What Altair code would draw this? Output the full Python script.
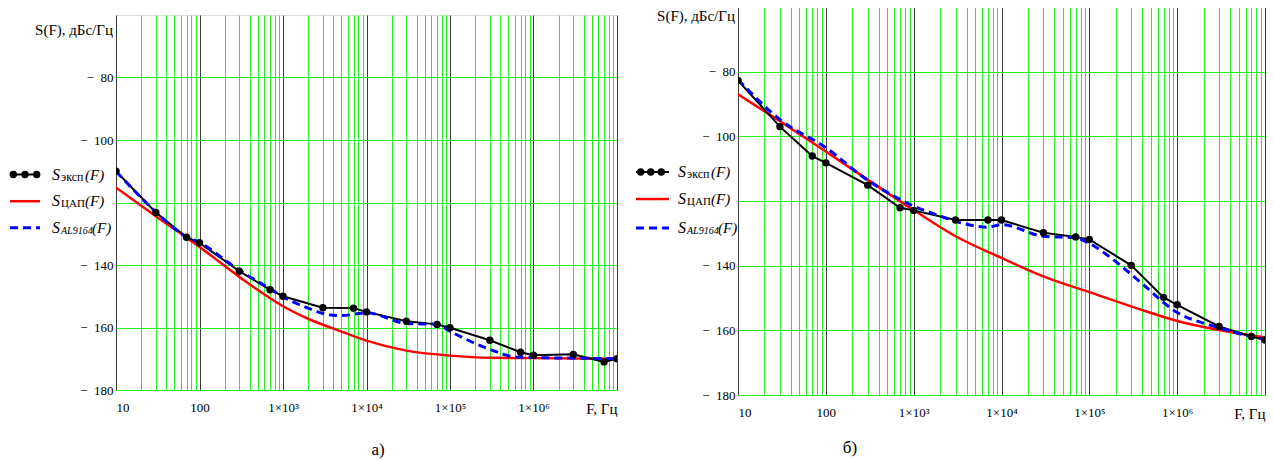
import altair as alt
import pandas as pd

# ---------------- data ----------------
F_exp = [10, 30, 70, 100, 300, 700, 1000, 3000, 7000, 10000, 30000, 70000,
         100000, 300000, 700000, 1000000, 3000000, 7000000, 10000000]

# panel a)
a_exp = [-110.0, -123.2, -131.1, -132.9, -142.0, -147.9, -150.0, -153.7, -153.8, -155.0,
         -158.0, -159.0, -160.1, -164.1, -167.9, -168.9, -168.6, -171.0, -170.0]
a_dac_F = [10, 30, 100, 300, 1000, 2000, 5000, 10000, 30000, 100000, 300000, 1000000, 10000000]
a_dac = [-115.2, -124.4, -134.2, -143.8, -153.2, -157.2, -161.3, -164.2, -167.4, -169.0,
         -169.7, -169.8, -170.0]
a_al_F = [10, 30, 70, 100, 300, 700, 1000, 2000, 3000, 5000, 10000, 30000, 70000, 100000,
          300000, 600000, 1000000, 3000000, 10000000]
a_al = [-110.0, -123.0, -131.0, -132.8, -141.7, -147.6, -150.2, -153.8, -155.5, -156.2,
        -155.3, -158.7, -159.0, -161.2, -167.0, -169.4, -169.6, -169.8, -170.0]

# panel б)
b_exp = [-82.7, -97.0, -106.1, -108.2, -115.1, -122.1, -122.9, -125.9, -125.9, -125.9,
         -129.8, -131.1, -131.9, -139.9, -149.8, -152.1, -158.8, -161.9, -163.0]
b_dac_F = [10, 30, 100, 300, 1000, 3000, 10000, 30000, 100000, 300000, 1000000, 3000000, 10000000]
b_dac = [-87.0, -95.3, -104.7, -113.4, -122.8, -130.9, -137.6, -143.3, -148.2, -152.6,
         -157.1, -159.9, -162.2]
b_al_F = [10, 30, 100, 300, 700, 1000, 1800, 3500, 7000, 10000, 30000, 70000, 100000,
          175000, 300000, 450000, 700000, 1000000, 1800000, 3000000, 7000000, 10000000]
b_al = [-82.4, -94.8, -103.5, -113.6, -119.5, -121.6, -124.2, -126.8, -128.1, -127.3,
        -130.9, -131.4, -133.1, -137.5, -142.7, -146.8, -151.4, -154.5, -157.4, -159.2,
        -162.0, -162.8]

decades = [10, 100, 1000, 10000, 100000, 1000000, 10000000]
minors = [m * 10 ** e for e in range(1, 7) for m in range(2, 10)]
x_grid = sorted(decades + minors)
y_ticks = [-180, -160, -140, -120, -100, -80]
leg_subs = ["эксп", "ЦАП", "AL9164"]
y_title = "S(F), дБс/Гц"

GREEN = "#22ee22"
SERIF = "Liberation Serif"

x_label_expr = (
    "datum.value == 10 ? '10' : datum.value == 100 ? '100' : "
    "datum.value == 1000 ? '1×10³' : datum.value == 10000 ? '1×10⁴' : "
    "datum.value == 100000 ? '1×10⁵' : datum.value == 1000000 ? '1×10⁶' : "
    "datum.value == 10000000 ? 'F, Гц' : ''"
)
# the -120 label is hidden behind the legend in the original
y_label_expr = "datum.value == -120 ? '' : '−\u2002' + abs(datum.value)"
dec_test = " || ".join(f"datum.value == {d}" for d in decades)

one = pd.DataFrame({"k": [0]})

# legend label typography: (subscript size, subscript style, offset of "(F)")
sub_style = [(12, "normal", 33), (11, "normal", 33), (10, "italic", 40)]


def txt(text, x, y, size, style="normal", align="left", baseline="alphabetic"):
    return alt.Chart(one).mark_text(text=text, font=SERIF, fontSize=size, fontStyle=style,
                                    align=align, baseline=baseline, color="black").encode(
        x=alt.value(x), y=alt.value(y))


def make_panel(exp_S, dac_F, dac_S, al_F, al_S, W, H, leg, title_y, caption, cap_x, cap_y):
    xs = alt.Scale(type="log", domain=[10, 10000000], nice=False)
    ys = alt.Scale(domain=[-180, -60], nice=False, zero=False)
    x_axis = alt.Axis(values=x_grid, grid=True,
                      gridColor={"condition": {"test": dec_test, "value": "#3a3a3a"}, "value": GREEN},
                      gridWidth=1, ticks=False, tickSize=0, domain=False,
                      labelExpr=x_label_expr, labelFlush=True, labelOverlap=False, labelBound=False,
                      labelFont=SERIF,
                      labelFontSize={"condition": {"test": "datum.value == 10000000", "value": 15},
                                     "value": 13},
                      labelColor="black", labelPadding=11, title=None)
    y_axis = alt.Axis(values=y_ticks, grid=True, gridColor=GREEN, gridWidth=1,
                      ticks=False, tickSize=0, domain=False,
                      labelExpr=y_label_expr, labelFont=SERIF, labelFontSize=13,
                      labelColor="black", labelPadding=3, title=None)
    X = alt.X("F:Q", scale=xs, axis=x_axis)
    Y = alt.Y("S:Q", scale=ys, axis=y_axis)

    df_exp = pd.DataFrame({"F": F_exp, "S": exp_S})
    df_dac = pd.DataFrame({"F": dac_F, "S": dac_S})
    df_al = pd.DataFrame({"F": al_F, "S": al_S})

    red = alt.Chart(df_dac).mark_line(color="#ff0000", strokeWidth=2.5, interpolate="monotone",
                                      clip=True).encode(x=X, y=Y)
    black = alt.Chart(df_exp).mark_line(color="black", strokeWidth=2, clip=True).encode(x=X, y=Y)
    blue = alt.Chart(df_al).mark_line(color="#0000ff", strokeWidth=3, strokeDash=[8, 5],
                                      interpolate="monotone", clip=True).encode(x=X, y=Y)
    pts = alt.Chart(df_exp).mark_circle(color="black", size=55, opacity=1, clip=True).encode(x=X, y=Y)

    deco = []
    x0, x1, dots, tx, rows = leg
    deco.append(alt.Chart(one).mark_rule(color="black", strokeWidth=2).encode(
        x=alt.value(x0), x2=alt.value(x1), y=alt.value(rows[0])))
    for d in dots:
        deco.append(alt.Chart(one).mark_circle(color="black", size=55, opacity=1).encode(
            x=alt.value(d), y=alt.value(rows[0])))
    deco.append(alt.Chart(one).mark_rule(color="#ff0000", strokeWidth=2.5).encode(
        x=alt.value(x0), x2=alt.value(x1), y=alt.value(rows[1])))
    deco.append(alt.Chart(one).mark_rule(color="#0000ff", strokeWidth=3, strokeDash=[8, 5]).encode(
        x=alt.value(x0), x2=alt.value(x1), y=alt.value(rows[2])))
    for sub, (ssize, sstyle, fdx), ry in zip(leg_subs, sub_style, rows):
        base = ry + 5
        deco.append(txt("S", tx, base, 16, "italic"))
        deco.append(txt(sub, tx + 9, base + 1, ssize, sstyle))
        deco.append(txt("(F)", tx + fdx, base, 15, "italic"))
    deco.append(txt(y_title, -3, title_y, 15, "normal", "right", "middle"))
    deco.append(txt(caption, cap_x, cap_y, 17, "normal", "center", "middle"))

    return alt.layer(red, black, blue, pts, *deco).properties(width=W, height=H)


left = make_panel(a_exp, a_dac_F, a_dac, a_al_F, a_al, 501, 375,
                  (-106, -76, [-102.7, -91, -79.3], -64, [159.5, 186.2, 212.8]),
                  14.5, "а)", 262, 435)
right = make_panel(b_exp, b_dac_F, b_dac, b_al_F, b_al, 527, 388,
                   (-102, -69, [-97.3, -87.3, -76.7], -60, [165, 192, 221]),
                   8.5, "б)", 112, 441)

spacer = alt.Chart(one).mark_rule(color="white", strokeWidth=1).encode(
    x=alt.value(0), x2=alt.value(1), y=alt.value(0)
).properties(width=1, height=6.5, view=alt.ViewBackground(strokeOpacity=0))

left_col = alt.vconcat(spacer, left, spacing=0)

chart = alt.hconcat(left_col, right, spacing=16).properties(
    padding={"left": 0, "top": -2, "right": 0, "bottom": 0}
).configure_view(stroke="#3a3a3a", strokeWidth=1).configure(background="white")

chart.save("out.html", embed_options={"renderer": "svg", "actions": False})
